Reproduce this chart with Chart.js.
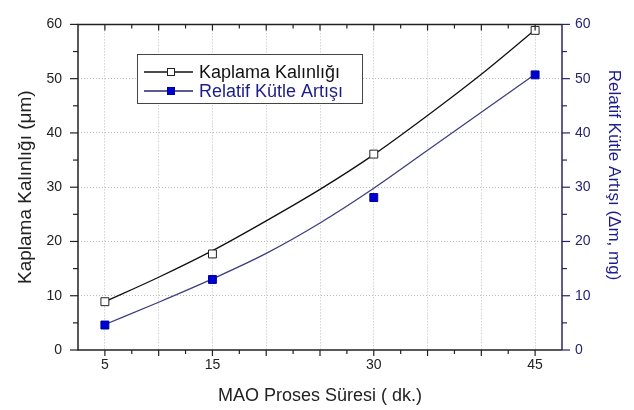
<!DOCTYPE html>
<html lang="tr">
<head>
<meta charset="UTF-8">
<title>Kaplama Kalınlığı</title>
<script src="https://cdn.jsdelivr.net/npm/chart.js"></script>
<style>
  body { margin: 0; background: #fff; }
  #kutu { width: 634px; height: 410px; }
</style>
</head>
<body>
<div id="kutu"><canvas id="grafik"></canvas></div>
<script>
// olculen degerler
const sureler = [5, 15, 30, 45];
const kalinlik = [8.9, 17.7, 36.1, 58.9];
const kutleArtisi = [4.6, 13.0, 28.1, 50.7];

// fit egrileri, resimden her 5 dk icin okunan degerler
const egriX = [5, 10, 15, 20, 25, 30, 35, 40, 45];
const kalinlikEgri = [8.9, 13.4, 18.3, 23.8, 29.6, 36.0, 43.2, 50.8, 59.0];
const kutleEgri = [4.7, 8.8, 13.1, 17.8, 23.4, 29.8, 36.8, 43.8, 50.8];

const xEtiketler = [5, 15, 30, 45];
const yEtiketler = [0, 10, 20, 30, 40, 50, 60];

const FONT = '"Liberation Sans", Arial, sans-serif';
const LACIVERT = '#26266e';

function noktalar(xs, ys) {
  return xs.map((x, i) => ({ x: x, y: ys[i] }));
}

// cerceve, tik cizgileri, sag eksen basligi ve lejant elle ciziliyor
const cerceve = {
  id: 'cerceve',
  afterDraw(chart) {
    const { ctx, chartArea: a, scales } = chart;
    ctx.save();
    ctx.lineWidth = 1.2;
    ctx.strokeStyle = '#222';
    for (let v = 5; v <= 45; v += 2.5) {
      const px = scales.x.getPixelForValue(v);
      const b = v % 5 === 0;
      ctx.beginPath();
      ctx.moveTo(px, a.bottom); ctx.lineTo(px, a.bottom + (b ? 6 : 4));
      ctx.moveTo(px, a.top); ctx.lineTo(px, a.top + (b ? 6 : 4));
      ctx.stroke();
    }
    for (let v = 0; v <= 60; v += 5) {
      const py = scales.y.getPixelForValue(v);
      const b = v % 10 === 0;
      ctx.beginPath();
      ctx.moveTo(a.left, py); ctx.lineTo(a.left - (b ? 8 : 5), py);
      ctx.stroke();
    }
    ctx.strokeStyle = LACIVERT;
    for (let v = 0; v <= 60; v += 5) {
      const py = scales.y2.getPixelForValue(v);
      const b = v % 10 === 0;
      ctx.beginPath();
      ctx.moveTo(a.right, py); ctx.lineTo(a.right + (b ? 8 : 5), py);
      ctx.stroke();
    }

    ctx.lineWidth = 1.5;
    ctx.strokeStyle = '#222';
    ctx.beginPath();
    ctx.moveTo(a.right, a.top); ctx.lineTo(a.left, a.top);
    ctx.lineTo(a.left, a.bottom); ctx.lineTo(a.right, a.bottom);
    ctx.stroke();
    ctx.strokeStyle = LACIVERT;
    ctx.beginPath();
    ctx.moveTo(a.right, a.top); ctx.lineTo(a.right, a.bottom);
    ctx.stroke();

    // sag eksen basligi
    ctx.save();
    ctx.translate(614, 175);
    ctx.rotate(Math.PI / 2);
    ctx.font = '17px ' + FONT;
    ctx.fillStyle = '#1c1c8a';
    ctx.textAlign = 'center';
    ctx.textBaseline = 'middle';
    ctx.fillText('Relatif Kütle Artışı (Δm, mg)', 0, 0);
    ctx.restore();

    // lejant
    ctx.fillStyle = '#fff';
    ctx.fillRect(137, 54, 225, 49);
    ctx.lineWidth = 1;
    ctx.strokeStyle = '#444';
    ctx.strokeRect(137.5, 54.5, 225, 49);
    const satirlar = [
      { y: 72, metin: 'Kaplama Kalınlığı', cizgi: '#111', dolgu: '#fff', kenar: '#222', renk: '#111' },
      { y: 91, metin: 'Relatif Kütle Artışı', cizgi: LACIVERT, dolgu: '#0000cc', kenar: '#0000aa', renk: '#1c1c8a' }
    ];
    ctx.font = '18px ' + FONT;
    ctx.textBaseline = 'middle';
    satirlar.forEach(s => {
      ctx.strokeStyle = s.cizgi;
      ctx.lineWidth = 1.3;
      ctx.beginPath();
      ctx.moveTo(144, s.y); ctx.lineTo(193, s.y);
      ctx.stroke();
      ctx.fillStyle = s.dolgu;
      ctx.fillRect(167, s.y - 4, 8, 8);
      ctx.strokeStyle = s.kenar;
      ctx.lineWidth = 1;
      ctx.strokeRect(167.5, s.y - 3.5, 7, 7);
      ctx.fillStyle = s.renk;
      ctx.fillText(s.metin, 199, s.y + 1);
    });
    ctx.restore();
  }
};

function adimliTikler(min, max, adim) {
  return function (scale) {
    const t = [];
    for (let v = min; v <= max + 1e-9; v += adim) t.push({ value: v });
    scale.ticks = t;
  };
}

new Chart(document.getElementById('grafik'), {
  type: 'scatter',
  data: {
    datasets: [
      {
        label: 'Kaplama Kalınlığı',
        data: noktalar(sureler, kalinlik),
        yAxisID: 'y',
        pointStyle: 'rect',
        pointRadius: 5.6,
        backgroundColor: '#fff',
        borderColor: '#222',
        borderWidth: 1
      },
      {
        label: 'Relatif Kütle Artışı',
        data: noktalar(sureler, kutleArtisi),
        yAxisID: 'y2',
        pointStyle: 'rect',
        pointRadius: 5.6,
        backgroundColor: '#0000cc',
        borderColor: '#0000aa',
        borderWidth: 1
      },
      {
        label: 'fit 1',
        data: noktalar(egriX, kalinlikEgri),
        yAxisID: 'y',
        showLine: true,
        pointRadius: 0,
        borderColor: '#111',
        borderWidth: 1.3,
        cubicInterpolationMode: 'monotone'
      },
      {
        label: 'fit 2',
        data: noktalar(egriX, kutleEgri),
        yAxisID: 'y2',
        showLine: true,
        pointRadius: 0,
        borderColor: '#3e3e80',
        borderWidth: 1.3,
        cubicInterpolationMode: 'monotone'
      }
    ]
  },
  options: {
    responsive: true,
    maintainAspectRatio: false,
    animation: false,
    layout: { padding: { top: 14, left: 0, right: 0, bottom: 0 } },
    plugins: { legend: { display: false }, tooltip: { enabled: false } },
    scales: {
      x: {
        type: 'linear',
        position: 'bottom',
        min: 2.5,
        max: 47.5,
        afterBuildTicks: adimliTikler(2.5, 47.5, 2.5),
        afterFit: s => { s.height = 60; },
        border: { display: false, dash: [1, 2] },
        grid: {
          drawTicks: false,
          lineWidth: 1,
          color: c => (c.tick && c.tick.value % 5 === 0) ? '#bdbdbd' : 'rgba(0,0,0,0)'
        },
        ticks: {
          padding: 7,
          color: '#222',
          font: { family: FONT, size: 14 },
          callback: v => xEtiketler.includes(v) ? String(v) : ''
        },
        title: {
          display: true,
          text: 'MAO Proses Süresi ( dk.)',
          color: '#222',
          font: { family: FONT, size: 18 },
          padding: { top: 0, bottom: 3 }
        }
      },
      y: {
        position: 'left',
        min: 0,
        max: 60,
        afterBuildTicks: adimliTikler(0, 60, 5),
        afterFit: s => { s.width = 78; },
        border: { display: false, dash: [1, 2] },
        grid: {
          drawTicks: false,
          lineWidth: 1,
          color: c => (c.tick && c.tick.value % 10 === 0 && c.tick.value > 0 && c.tick.value < 60) ? '#bdbdbd' : 'rgba(0,0,0,0)'
        },
        ticks: {
          padding: 16,
          color: '#222',
          font: { family: FONT, size: 14 },
          callback: v => yEtiketler.includes(v) ? String(v) : ''
        },
        title: {
          display: true,
          text: 'Kaplama Kalınlığı (μm)',
          color: '#222',
          font: { family: FONT, size: 19 },
          padding: { top: 14, bottom: 0 }
        }
      },
      y2: {
        position: 'right',
        min: 0,
        max: 60,
        afterBuildTicks: adimliTikler(0, 60, 5),
        afterFit: s => { s.width = 72; },
        border: { display: false },
        grid: { display: false, drawTicks: false },
        ticks: {
          padding: 13,
          color: LACIVERT,
          font: { family: FONT, size: 14 },
          callback: v => yEtiketler.includes(v) ? String(v) : ''
        },
        title: { display: false }
      }
    }
  },
  plugins: [cerceve]
});
</script>
</body>
</html>
